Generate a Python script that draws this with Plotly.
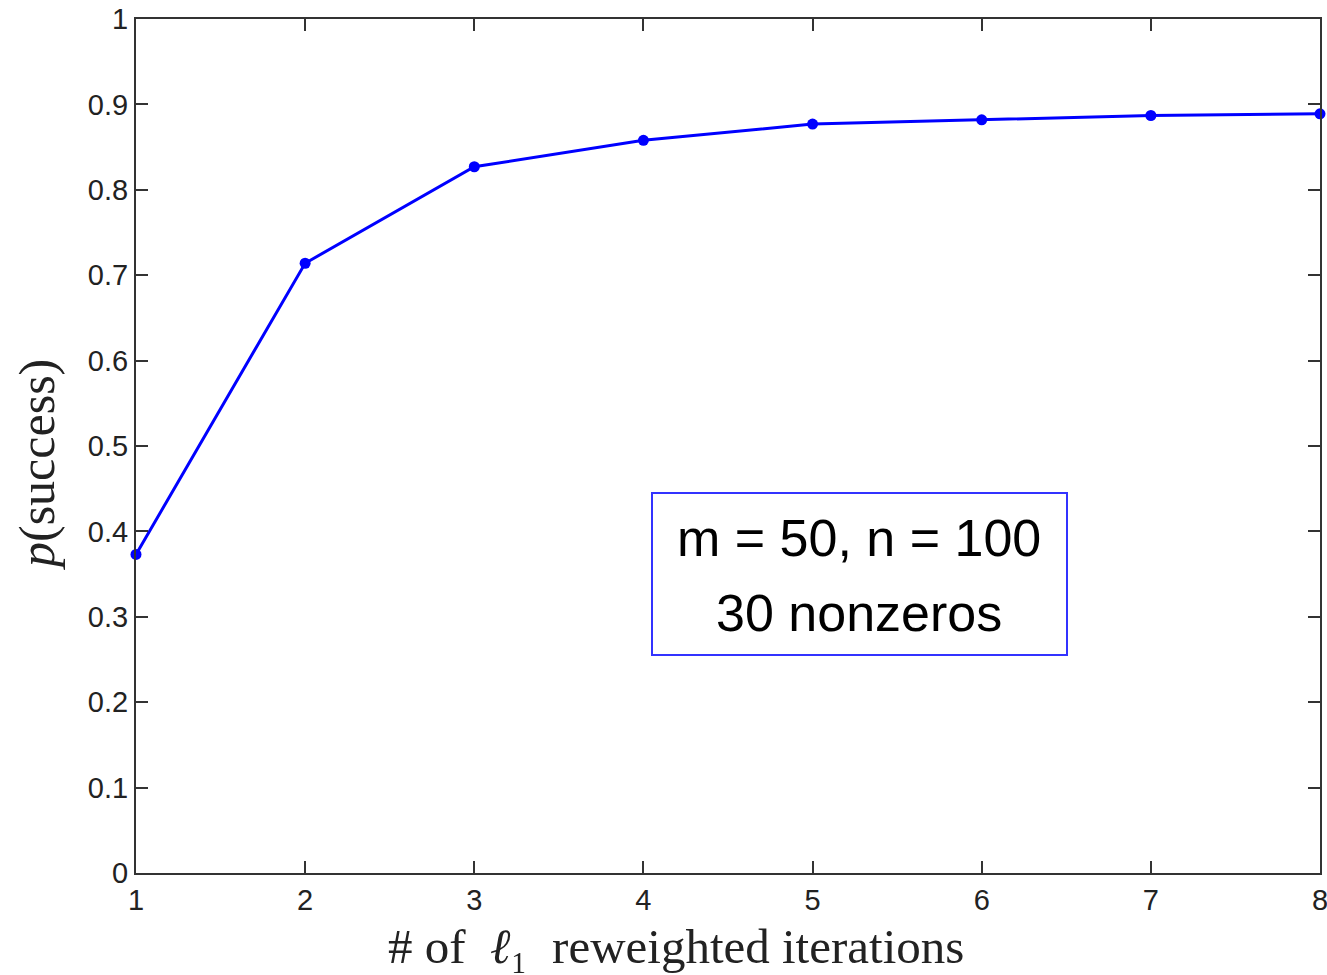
import plotly.graph_objects as go

iterations = [1, 2, 3, 4, 5, 6, 7, 8]
p_success = [0.373, 0.714, 0.827, 0.858, 0.877, 0.882, 0.887, 0.889]
y_ticks = [0, 0.1, 0.2, 0.3, 0.4, 0.5, 0.6, 0.7, 0.8, 0.9, 1]
y_tick_text = ["0", "0.1", "0.2", "0.3", "0.4", "0.5", "0.6", "0.7", "0.8", "0.9", "1"]
x_title = "#&nbsp;of&nbsp;&nbsp;<i>ℓ</i>₁&nbsp;&nbsp;reweighted iterations"
y_title = "<i>p</i>(success)"
box_lines = ["m = 50, n = 100", "30 nonzeros"]

L, R, T, B = 136, 1320, 19, 873
W, H = 1327, 975
PW, PH = R - L, B - T

fig = go.Figure()
fig.add_trace(go.Scatter(
    x=iterations, y=p_success, mode="lines+markers",
    line=dict(color="#0000ff", width=3),
    marker=dict(color="#0000ff", size=11, symbol="circle"),
    cliponaxis=False, showlegend=False,
))

axis_common = dict(
    showline=True, linecolor="#333333", linewidth=2, mirror="ticks",
    ticks="inside", ticklen=12, tickwidth=2, tickcolor="#333333",
    showgrid=False, zeroline=False, ticklabeloverflow="allow",
    tickfont=dict(family="Liberation Sans, Arial", size=29, color="#222222"),
)

fig.update_xaxes(range=[1, 8], tickvals=iterations,
                 ticktext=[str(v) for v in iterations], **axis_common)
fig.update_yaxes(range=[0, 1], tickvals=y_ticks, ticktext=y_tick_text, **axis_common)

# axis titles placed as annotations (reference titles are off-center)
fig.add_annotation(xref="paper", yref="paper", x=(676 - L) / PW, y=(B - 946) / PH,
                   text=x_title, showarrow=False, xanchor="center", yanchor="middle",
                   font=dict(family="Liberation Serif, Times New Roman", size=49, color="#222222"))
fig.add_annotation(xref="paper", yref="paper", x=(37 - L) / PW, y=(B - 464) / PH,
                   text=y_title, showarrow=False, textangle=-90,
                   xanchor="center", yanchor="middle",
                   font=dict(family="Liberation Serif, Times New Roman", size=50, color="#222222"))

# text box
fig.add_shape(type="rect", xref="paper", yref="paper",
              x0=(652 - L) / PW, x1=(1067 - L) / PW,
              y0=(B - 655) / PH, y1=(B - 493) / PH,
              line=dict(color="#3333ff", width=2), fillcolor="white")
fig.add_annotation(xref="paper", yref="paper", x=(859 - L) / PW, y=(B - 538) / PH,
                   text=box_lines[0], showarrow=False, xanchor="center", yanchor="middle",
                   font=dict(family="Liberation Sans, Arial", size=52, color="black"))
fig.add_annotation(xref="paper", yref="paper", x=(859 - L) / PW, y=(B - 613) / PH,
                   text=box_lines[1], showarrow=False, xanchor="center", yanchor="middle",
                   font=dict(family="Liberation Sans, Arial", size=52, color="black"))

fig.update_layout(
    width=W, height=H,
    margin=dict(l=L, r=W - R, t=T, b=H - B, autoexpand=False),
    plot_bgcolor="white", paper_bgcolor="white",
)

fig.write_html("out.html")
